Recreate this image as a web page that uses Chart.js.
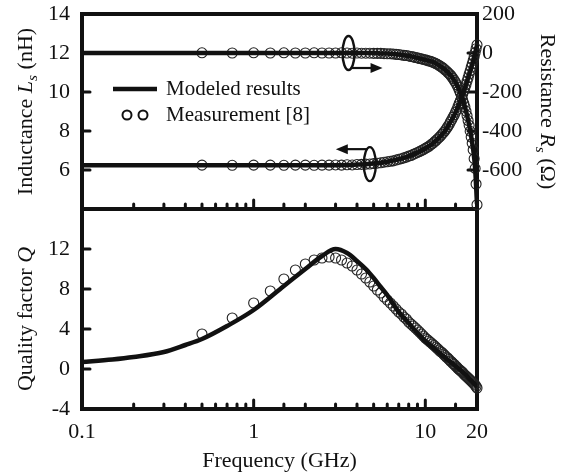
<!DOCTYPE html>
<html>
<head>
<meta charset="utf-8">
<script src="https://cdn.jsdelivr.net/npm/chart.js@4/dist/chart.umd.min.js"></script>
<style>
  html, body { margin: 0; padding: 0; background: #fff; }
  #wrap { width: 569px; height: 474px; position: relative; }
</style>
</head>
<body>
<div id="wrap"><canvas id="chart"></canvas></div>
<script>
// model curve (GHz)
const modelFreq = [0.1, 0.15, 0.2, 0.3, 0.4, 0.5, 0.7, 1, 1.5, 2, 2.5, 3, 3.5, 4, 4.5, 5, 5.5, 6, 7, 8, 9, 10, 11, 12, 13, 14, 15, 16, 17, 18, 19, 19.5, 20];
const lsModel = [6.25, 6.25, 6.25, 6.25, 6.25, 6.25, 6.25, 6.25, 6.25, 6.25, 6.25, 6.25, 6.26, 6.28, 6.3, 6.33, 6.37, 6.42, 6.55, 6.7, 6.9, 7.1, 7.35, 7.65, 8.0, 8.45, 8.95, 9.55, 10.2, 10.9, 11.6, 12.0, 12.4];
const rsModel = [0, 0, 0, 0, 0, 0, 0, 0, 0, 0, 0, 0, 0, 0, 0, 0, -2, -3, -8, -15, -25, -35, -45, -62, -85, -112, -150, -205, -275, -370, -495, -590, -775];
const qModel = [0.7, 0.95, 1.2, 1.7, 2.4, 3.0, 4.3, 5.9, 8.3, 10.0, 11.3, 12.0, 11.6, 10.8, 10.0, 9.1, 8.2, 7.4, 5.7, 4.6, 3.6, 2.8, 2.2, 1.65, 1.15, 0.7, 0.3, -0.1, -0.5, -0.95, -1.35, -1.57, -1.8];

// measurement (GHz)
const measFreq = [0.5, 0.75, 1, 1.25, 1.5, 1.75, 2, 2.25, 2.5, 2.75,
  3, 3.25, 3.5, 3.75, 4, 4.25, 4.5, 4.75, 5, 5.25,
  5.5, 5.75, 6, 6.25, 6.5, 6.75, 7, 7.25, 7.5, 7.75,
  8, 8.25, 8.5, 8.75, 9, 9.25, 9.5, 9.75, 10, 10.25,
  10.5, 10.75, 11, 11.25, 11.5, 11.75, 12, 12.25, 12.5, 12.75,
  13, 13.25, 13.5, 13.75, 14, 14.25, 14.5, 14.75, 15, 15.25,
  15.5, 15.75, 16, 16.25, 16.5, 16.75, 17, 17.25, 17.5, 17.75,
  18, 18.25, 18.5, 18.75, 19, 19.25, 19.5, 19.75, 20];
const lsMeas = [6.25, 6.24, 6.25, 6.25, 6.24, 6.25, 6.25, 6.24, 6.25, 6.25,
  6.26, 6.25, 6.27, 6.26, 6.28, 6.29, 6.3, 6.31, 6.33, 6.35,
  6.37, 6.4, 6.42, 6.45, 6.47, 6.51, 6.55, 6.58, 6.62, 6.66,
  6.71, 6.74, 6.8, 6.85, 6.9, 6.94, 7.0, 7.05, 7.11, 7.16,
  7.22, 7.29, 7.35, 7.43, 7.5, 7.58, 7.66, 7.74, 7.83, 7.92,
  8.01, 8.11, 8.22, 8.33, 8.46, 8.58, 8.71, 8.83, 8.97, 9.1,
  9.26, 9.41, 9.56, 9.72, 9.88, 10.05, 10.22, 10.38, 10.56, 10.73,
  10.92, 11.08, 11.27, 11.44, 11.62, 11.82, 12.02, 12.22, 12.42];
const rsMeas = [1, 0, 1, 0, 1, 0, 0, 1, 0, 0,
  0, 1, 0, -1, 0, -1, -1, -1, -2, -2,
  -2, -3, -4, -4, -5, -7, -8, -10, -12, -13,
  -15, -18, -20, -23, -25, -28, -30, -33, -35, -38,
  -41, -43, -46, -50, -54, -58, -63, -68, -73, -79,
  -86, -92, -99, -106, -113, -122, -131, -141, -151, -163,
  -176, -191, -206, -223, -241, -258, -276, -298, -321, -346,
  -371, -401, -431, -463, -497, -542, -592, -672, -778];
const qMeas = [3.5, 5.1, 6.6, 7.8, 9.0, 9.9, 10.5, 10.9, 11.1, 11.2,
  11.1, 10.9, 10.6, 10.3, 9.9, 9.5, 9.1, 8.7, 8.3, 7.9,
  7.6, 7.2, 6.9, 6.6, 6.3, 6.0, 5.7, 5.5, 5.2, 5.0,
  4.7, 4.5, 4.3, 4.1, 3.9, 3.7, 3.5, 3.3, 3.1, 2.95,
  2.8, 2.65, 2.5, 2.35, 2.2, 2.05, 1.9, 1.75, 1.65, 1.5,
  1.35, 1.2, 1.1, 0.95, 0.8, 0.7, 0.55, 0.45, 0.3, 0.2,
  0.05, -0.05, -0.15, -0.25, -0.35, -0.5, -0.6, -0.7, -0.8, -0.9,
  -1.0, -1.1, -1.2, -1.3, -1.4, -1.5, -1.6, -1.75, -1.9];

const xTickLabels = [0.1, 1, 10, 20];
const lsTickLabels = [6, 8, 10, 12, 14];
const rsTickLabels = [200, 0, -200, -400, -600];
const qTickLabels = [-4, 0, 4, 8, 12];

const FONT = "'Liberation Serif', 'Times New Roman', serif";
const INK = "#111";

function pts(xs, ys) {
  return xs.map((x, i) => ({ x: x, y: ys[i] }));
}
function hasLabel(list, v) {
  return list.some((t) => Math.abs(t - v) < 1e-9);
}

function modelSet(data, axis) {
  return {
    label: "Modeled results",
    data: data,
    yAxisID: axis,
    showLine: true,
    borderColor: INK,
    borderWidth: 4.5,
    pointRadius: 0,
    cubicInterpolationMode: "monotone",
    order: 0,
  };
}
function measSet(data, axis) {
  return {
    label: "Measurement [8]",
    data: data,
    yAxisID: axis,
    showLine: false,
    pointRadius: 5,
    pointBorderWidth: 1.1,
    pointBorderColor: "#222",
    pointBackgroundColor: "rgba(0,0,0,0)",
    clip: false,
    order: 1,
  };
}

// draw a label made of pieces [text, italic, subscript]
function drawRich(ctx, pieces, size) {
  const fontOf = (p) => (p[1] ? "italic " : "") + (p[2] ? size * 0.7 : size) + "px " + FONT;
  let total = 0;
  pieces.forEach((p) => { ctx.font = fontOf(p); total += ctx.measureText(p[0]).width; });
  let x = -total / 2;
  ctx.textBaseline = "middle";
  ctx.textAlign = "left";
  pieces.forEach((p) => {
    ctx.font = fontOf(p);
    ctx.fillText(p[0], x, p[2] ? size * 0.3 : 0);
    x += ctx.measureText(p[0]).width;
  });
}

// fixed axis box sizes so both panels line up
function fixWidth(w) {
  return (s) => { s.width = w; s.paddingTop = 0; s.paddingBottom = 0; };
}

const paperFrame = {
  id: "paperFrame",
  beforeDatasetsDraw(chart) {
    const { ctx, chartArea: a, scales } = chart;
    const x = scales.x, yL = scales.yL, yQ = scales.yQ, yR = scales.yR;
    ctx.save();
    ctx.strokeStyle = INK;
    ctx.fillStyle = INK;

    // inward ticks
    ctx.lineCap = "round";
    ctx.lineWidth = 3;
    const edge = (v, a0, b0) => Math.abs(v - a0) < 1e-9 || Math.abs(v - b0) < 1e-9;
    [yL.bottom, yQ.bottom].forEach((base) => {
      x.ticks.forEach((t) => {
        if (edge(t.value, x.min, x.max)) return;
        const px = x.getPixelForValue(t.value);
        const len = (t.value === 1 || t.value === 10) ? 9 : 5;
        ctx.beginPath();
        ctx.moveTo(px, base);
        ctx.lineTo(px, base - len);
        ctx.stroke();
      });
    });
    [yL, yQ].forEach((s) => {
      s.ticks.forEach((t) => {
        if (edge(t.value, s.min, s.max)) return;
        const py = s.getPixelForValue(t.value);
        ctx.beginPath();
        ctx.moveTo(a.left, py);
        ctx.lineTo(a.left + 8, py);
        ctx.stroke();
      });
    });
    yR.ticks.forEach((t) => {
      if (edge(t.value, yR.min, yR.max)) return;
      const py = yR.getPixelForValue(t.value);
      ctx.beginPath();
      ctx.moveTo(a.right, py);
      ctx.lineTo(a.right - 9, py);
      ctx.stroke();
    });

    // frame and panel divider
    ctx.lineCap = "butt";
    ctx.lineWidth = 4;
    ctx.strokeRect(a.left, a.top, a.right - a.left, a.bottom - a.top);
    ctx.beginPath();
    ctx.moveTo(a.left, yL.bottom);
    ctx.lineTo(a.right, yL.bottom);
    ctx.stroke();
    ctx.restore();
  },
  afterDraw(chart) {
    const { ctx, chartArea: a, scales } = chart;
    const x = scales.x, yL = scales.yL, yQ = scales.yQ, yR = scales.yR;
    ctx.save();
    ctx.fillStyle = INK;
    ctx.strokeStyle = INK;

    // axis titles
    ctx.save();
    ctx.translate(26, (yL.top + yL.bottom) / 2);
    ctx.rotate(-Math.PI / 2);
    drawRich(ctx, [["Inductance ", false, false], ["L", true, false], ["s", true, true], [" (nH)", false, false]], 22);
    ctx.restore();

    ctx.save();
    ctx.translate(26, (yQ.top + yQ.bottom) / 2 + 10);
    ctx.rotate(-Math.PI / 2);
    drawRich(ctx, [["Quality factor ", false, false], ["Q", true, false]], 22);
    ctx.restore();

    ctx.save();
    ctx.translate(547, (yR.top + yR.bottom) / 2);
    ctx.rotate(Math.PI / 2);
    drawRich(ctx, [["Resistance ", false, false], ["R", true, false], ["s", true, true], [" (\u03A9)", false, false]], 22);
    ctx.restore();

    // legend
    const lx = a.left + 31;
    ctx.lineWidth = 4.5;
    ctx.beginPath();
    ctx.moveTo(lx, a.top + 75);
    ctx.lineTo(lx + 44, a.top + 75);
    ctx.stroke();
    ctx.lineWidth = 2;
    [lx + 14, lx + 30].forEach((cx) => {
      ctx.beginPath();
      ctx.arc(cx, a.top + 101, 4.5, 0, Math.PI * 2);
      ctx.stroke();
    });
    ctx.font = "21px " + FONT;
    ctx.textAlign = "left";
    ctx.textBaseline = "middle";
    ctx.fillText(chart.data.datasets[0].label, lx + 53, a.top + 75);
    ctx.fillText(chart.data.datasets[3].label, lx + 53, a.top + 101);

    // curve markers with direction arrows
    const marker = (cx, cy, dir, dy) => {
      ctx.lineWidth = 2.4;
      ctx.beginPath();
      ctx.ellipse(cx, cy, 6, 17, 0, 0, Math.PI * 2);
      ctx.stroke();
      const ay = cy + dy;
      const x0 = cx + dir * 2, x1 = cx + dir * 34;
      ctx.lineWidth = 2.2;
      ctx.beginPath();
      ctx.moveTo(x0, ay);
      ctx.lineTo(x1 - dir * 9, ay);
      ctx.stroke();
      ctx.beginPath();
      ctx.moveTo(x1, ay);
      ctx.lineTo(x1 - dir * 12, ay - 5);
      ctx.lineTo(x1 - dir * 12, ay + 5);
      ctx.closePath();
      ctx.fill();
    };
    marker(x.getPixelForValue(3.57), yR.getPixelForValue(0), 1, 15);
    marker(x.getPixelForValue(4.75), yL.getPixelForValue(6.3), -1, -15);
    ctx.restore();
  },
};

const tickFont = { family: FONT, size: 22 };

new Chart(document.getElementById("chart"), {
  type: "scatter",
  data: {
    datasets: [
      modelSet(pts(modelFreq, lsModel), "yL"),
      modelSet(pts(modelFreq, rsModel), "yR"),
      modelSet(pts(modelFreq, qModel), "yQ"),
      measSet(pts(measFreq, lsMeas), "yL"),
      measSet(pts(measFreq, rsMeas), "yR"),
      measSet(pts(measFreq, qMeas), "yQ"),
    ],
  },
  options: {
    responsive: true,
    maintainAspectRatio: false,
    animation: false,
    devicePixelRatio: 1,
    layout: { padding: { top: 14, left: 0, right: 0, bottom: 0 } },
    plugins: { legend: { display: false }, tooltip: { enabled: false } },
    scales: {
      x: {
        type: "logarithmic",
        position: "bottom",
        min: 0.1,
        max: 20,
        grid: { display: false, drawTicks: false },
        border: { display: false },
        ticks: {
          autoSkip: false,
          maxRotation: 0,
          padding: 10,
          color: INK,
          font: tickFont,
          callback: (v) => (hasLabel(xTickLabels, v) ? String(v) : ""),
        },
        title: {
          display: true,
          text: "Frequency (GHz)",
          color: INK,
          font: { family: FONT, size: 22 },
          padding: { top: 0, bottom: 0 },
        },
        afterFit: (s) => { s.height = 65; s.paddingLeft = 0; s.paddingRight = 0; },
      },
      // left stack is placed in reverse order: listed first ends up at the bottom
      yQ: {
        position: "left",
        stack: "leftSide",
        stackWeight: 200,
        min: -4,
        max: 16,
        grid: { display: false, drawTicks: false },
        border: { display: false },
        ticks: {
          stepSize: 4,
          autoSkip: false,
          padding: 12,
          color: INK,
          font: tickFont,
          callback: (v) => (hasLabel(qTickLabels, v) ? v : ""),
        },
        afterFit: fixWidth(82),
      },
      yL: {
        position: "left",
        stack: "leftSide",
        stackWeight: 195,
        min: 4,
        max: 14,
        grid: { display: false, drawTicks: false },
        border: { display: false },
        ticks: {
          stepSize: 2,
          autoSkip: false,
          padding: 12,
          color: INK,
          font: tickFont,
          callback: (v) => (hasLabel(lsTickLabels, v) ? v : ""),
        },
        afterFit: fixWidth(82),
      },
      yR: {
        position: "right",
        stack: "rightSide",
        stackWeight: 195,
        min: -800,
        max: 200,
        grid: { display: false, drawTicks: false },
        border: { display: false },
        ticks: {
          stepSize: 200,
          autoSkip: false,
          padding: 5,
          color: INK,
          font: tickFont,
          callback: (v) => (hasLabel(rsTickLabels, v) ? v : ""),
        },
        afterFit: fixWidth(92),
      },
      yR2: {
        position: "right",
        stack: "rightSide",
        stackWeight: 200,
        min: 0,
        max: 1,
        grid: { display: false, drawTicks: false },
        border: { display: false },
        ticks: { display: false },
        afterFit: fixWidth(92),
      },
    },
  },
  plugins: [paperFrame],
});
</script>
</body>
</html>
